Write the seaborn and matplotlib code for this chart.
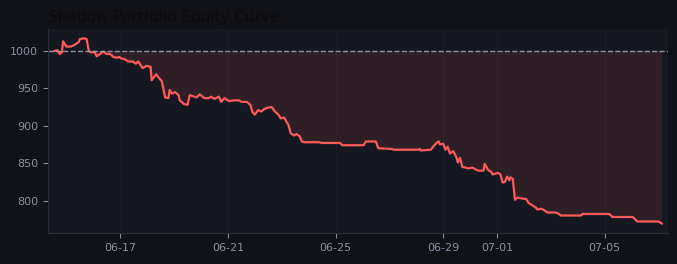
import numpy as np
import pandas as pd
import matplotlib
matplotlib.use("Agg")
import matplotlib.pyplot as plt
import matplotlib.dates as mdates
import seaborn as sns

# -------------------------------------------------------
# Data
# -------------------------------------------------------
timestamps = [
    "2024-06-14 13:00", "2024-06-14 16:00", "2024-06-14 18:00", "2024-06-14 20:00", "2024-06-14 21:00",
    "2024-06-15 00:00", "2024-06-15 04:00", "2024-06-15 07:00", "2024-06-15 11:00", "2024-06-15 12:00",
    "2024-06-15 16:00", "2024-06-15 18:00", "2024-06-15 20:00", "2024-06-15 22:00", "2024-06-16 01:00",
    "2024-06-16 03:00", "2024-06-16 05:00", "2024-06-16 09:00", "2024-06-16 12:00", "2024-06-16 15:00",
    "2024-06-16 18:00", "2024-06-16 21:00", "2024-06-16 23:00", "2024-06-17 01:00", "2024-06-17 04:00",
    "2024-06-17 07:00", "2024-06-17 11:00", "2024-06-17 14:00", "2024-06-17 16:00", "2024-06-17 20:00",
    "2024-06-17 23:00", "2024-06-18 03:00", "2024-06-18 04:00", "2024-06-18 08:00", "2024-06-18 11:00",
    "2024-06-18 13:00", "2024-06-18 16:00", "2024-06-18 19:00", "2024-06-18 20:00", "2024-06-18 22:00",
    "2024-06-19 01:00", "2024-06-19 04:00", "2024-06-19 05:00", "2024-06-19 09:00", "2024-06-19 12:00",
    "2024-06-19 14:00", "2024-06-19 18:00", "2024-06-19 20:00", "2024-06-19 23:00", "2024-06-20 03:00",
    "2024-06-20 07:00", "2024-06-20 09:00", "2024-06-20 12:00", "2024-06-20 16:00", "2024-06-20 18:00",
    "2024-06-20 21:00", "2024-06-21 01:00", "2024-06-21 05:00", "2024-06-21 10:00", "2024-06-21 12:00",
    "2024-06-21 17:00", "2024-06-21 20:00", "2024-06-21 22:00", "2024-06-22 00:00", "2024-06-22 03:00",
    "2024-06-22 06:00", "2024-06-22 08:00", "2024-06-22 11:00", "2024-06-22 15:00", "2024-06-22 18:00",
    "2024-06-22 21:00", "2024-06-22 23:00", "2024-06-23 02:00", "2024-06-23 04:00", "2024-06-23 06:00",
    "2024-06-23 08:00", "2024-06-23 11:00", "2024-06-23 13:00", "2024-06-23 16:00", "2024-06-23 18:00",
    "2024-06-23 20:00", "2024-06-24 09:00", "2024-06-24 12:00", "2024-06-25 04:00", "2024-06-25 06:00",
    "2024-06-26 01:00", "2024-06-26 03:00", "2024-06-26 12:00", "2024-06-26 14:00", "2024-06-27 02:00",
    "2024-06-27 04:00", "2024-06-28 02:00", "2024-06-28 03:00", "2024-06-28 04:00", "2024-06-28 13:00",
    "2024-06-28 15:00", "2024-06-28 18:00", "2024-06-28 20:00", "2024-06-28 21:00", "2024-06-29 00:00",
    "2024-06-29 02:00", "2024-06-29 04:00", "2024-06-29 06:00", "2024-06-29 09:00", "2024-06-29 12:00",
    "2024-06-29 13:00", "2024-06-29 15:00", "2024-06-29 17:00", "2024-06-29 20:00", "2024-06-29 22:00",
    "2024-06-30 02:00", "2024-06-30 07:00", "2024-06-30 12:00", "2024-06-30 13:00", "2024-06-30 16:00",
    "2024-06-30 19:00", "2024-06-30 20:00", "2024-07-01 01:00", "2024-07-01 03:00", "2024-07-01 05:00",
    "2024-07-01 07:00", "2024-07-01 09:00", "2024-07-01 11:00", "2024-07-01 12:00", "2024-07-01 14:00",
    "2024-07-01 16:00", "2024-07-01 18:00", "2024-07-01 21:00", "2024-07-02 02:00", "2024-07-02 04:00",
    "2024-07-02 08:00", "2024-07-02 11:00", "2024-07-02 12:00", "2024-07-02 15:00", "2024-07-02 17:00",
    "2024-07-02 21:00", "2024-07-03 04:00", "2024-07-03 06:00", "2024-07-03 09:00", "2024-07-04 03:00",
    "2024-07-04 04:00", "2024-07-05 04:00", "2024-07-05 07:00", "2024-07-06 01:00", "2024-07-06 05:00",
    "2024-07-07 00:00", "2024-07-07 03:00",
]
equity = [
    1000, 1001, 996, 998, 1013,
    1006, 1006, 1008, 1012, 1016,
    1017, 1016, 1000, 998, 999,
    993, 995, 999, 996, 996,
    992, 991, 992, 990, 989,
    986, 986, 983, 986, 977,
    980, 979, 961, 969, 963,
    960, 938, 937, 948, 943,
    945, 941, 934, 929, 928,
    941, 939, 938, 942, 937,
    937, 939, 936, 939, 932,
    937, 933, 934, 934, 932,
    932, 928, 918, 915, 921,
    919, 922, 924, 925, 919,
    915, 910, 911, 906, 901,
    890, 887, 889, 886, 879,
    878, 878, 877, 877, 874,
    874, 879, 879, 870, 869,
    868, 868, 869, 867, 868,
    872, 877, 879, 875, 876,
    868, 872, 863, 866, 857,
    851, 857, 845, 844, 843,
    844, 840, 840, 849, 841,
    838, 835, 837, 835, 824,
    825, 832, 827, 831, 829,
    801, 804, 803, 802, 797,
    793, 790, 788, 789, 788,
    784, 784, 783, 780, 780,
    782, 782, 778, 778, 772,
    772, 769,
]
start_capital = 1000
title = "Shadow Portfolio Equity Curve"

df = pd.DataFrame({"time": pd.to_datetime(timestamps), "equity": equity})

# -------------------------------------------------------
# Styl
# -------------------------------------------------------
fig_bg = "#111217"
ax_bg = "#151821"
txt = "#8a90a2"
red = "#ff5a5a"

sns.set_style("dark")
plt.rcParams["font.family"] = ["DejaVu Sans"]

fig = plt.figure(figsize=(6.77, 2.64), dpi=100, facecolor=fig_bg)
ax = fig.add_axes([0.0709, 0.1174, 0.9158, 0.7726])
ax.set_facecolor(ax_bg)

sns.lineplot(data=df, x="time", y="equity", color=red, linewidth=1.6, ax=ax)
ax.fill_between(df["time"], df["equity"], start_capital,
                where=df["equity"] < start_capital, interpolate=True,
                color=red, alpha=0.11, linewidth=0)
ax.axhline(start_capital, color="#a3a8b6", linestyle="--", linewidth=1.0, alpha=0.85)

ax.margins(x=0.01, y=0.05)
ax.xaxis.set_major_locator(mdates.DayLocator(bymonthday=[1, 5, 9, 13, 17, 21, 25, 29]))
ax.xaxis.set_major_formatter(mdates.DateFormatter("%m-%d"))
ax.set_yticks([800, 850, 900, 950, 1000])

ax.grid(axis="x", color="#1a1d28", linewidth=0.8)
ax.grid(axis="y", visible=False)
ax.set_xlabel("")
ax.set_ylabel("")
ax.tick_params(colors=txt, labelsize=8, length=3.5, width=0.8, bottom=True, left=True)
for s in ["top", "right"]:
    ax.spines[s].set_visible(False)
for s in ["left", "bottom"]:
    ax.spines[s].set_color("#2b2f3c")
    ax.spines[s].set_linewidth(0.8)

ax.set_title(title, loc="left", fontsize=11, color="#0b0b0e", pad=5)

plt.savefig("out.png", dpi=100, facecolor=fig_bg)
plt.close()
